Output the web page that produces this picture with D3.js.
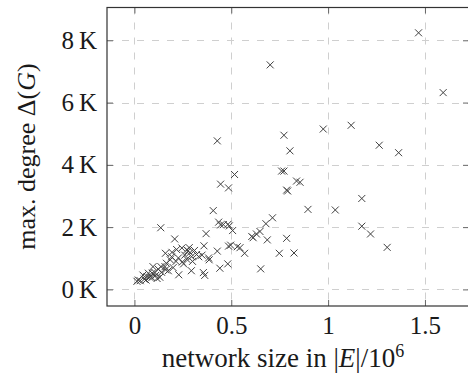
<!DOCTYPE html>
<html>
<head>
<meta charset="utf-8">
<script src="https://cdn.jsdelivr.net/npm/d3@7"></script>
<style>
  html, body { margin: 0; padding: 0; background: #fff; }
  svg { display: block; }
  text { font-family: "Liberation Serif", "DejaVu Serif", serif; fill: #1a1a1a; }
</style>
</head>
<body>
<div id="chart"></div>
<script>
// network size in |E| / 10^6
const edgesM = [
  1.467, 0.701, 1.594, 1.119, 0.975, 0.772, 0.428, 1.264, 0.803, 1.364,
  0.760, 0.772, 0.517, 0.837, 0.855, 0.445, 0.486, 0.786, 0.791, 1.174,
  0.896, 1.037, 0.407, 0.713, 0.435, 0.679, 0.483, 0.445, 1.174, 0.490,
  0.136, 0.507, 0.648, 0.630, 0.606, 0.613, 1.219, 0.370, 0.786, 0.686,
  0.208, 0.359, 0.486, 0.531, 0.545, 1.305, 0.283, 0.277, 0.428, 0.194,
  0.160, 0.748, 0.824, 0.569, 0.321, 0.332, 0.295, 0.383, 0.386, 0.227,
  0.185, 0.192, 0.482, 0.441, 0.652, 0.247, 0.254, 0.165, 0.158, 0.137,
  0.123, 0.294, 0.356, 0.363, 0.229, 0.161, 0.096, 0.092, 0.106, 0.072,
  0.065, 0.079, 0.044, 0.051, 0.117, 0.131, 0.020, 0.013, 0.459, 0.349,
  0.497, 0.270, 0.287, 0.218, 0.245, 0.260, 0.300, 0.310, 0.270, 0.215,
  0.200, 0.175, 0.140, 0.110, 0.090, 0.060, 0.030
];
// max. degree Delta(G), in thousands
const maxDegreeK = [
  8.24, 7.21, 6.32, 5.27, 5.15, 4.95, 4.77, 4.63, 4.45, 4.39,
  3.80, 3.80, 3.69, 3.48, 3.44, 3.38, 3.26, 3.19, 3.16, 2.92,
  2.57, 2.55, 2.53, 2.30, 2.16, 2.11, 2.09, 2.07, 2.03, 2.04,
  1.98, 1.89, 1.86, 1.78, 1.70, 1.66, 1.78, 1.79, 1.64, 1.59,
  1.62, 1.40, 1.39, 1.37, 1.34, 1.35, 1.34, 1.24, 1.23, 1.19,
  1.16, 1.16, 1.17, 1.16, 1.12, 1.05, 1.05, 1.01, 0.95, 1.01,
  0.95, 1.05, 0.82, 0.68, 0.66, 0.88, 0.82, 0.84, 0.73, 0.73,
  0.65, 0.60, 0.54, 0.45, 0.47, 0.63, 0.73, 0.52, 0.54, 0.52,
  0.41, 0.39, 0.46, 0.33, 0.35, 0.39, 0.30, 0.26, 2.08, 1.10,
  1.42, 1.27, 1.18, 1.28, 1.33, 1.10, 0.90, 1.25, 0.97, 0.90,
  0.70, 0.60, 0.55, 0.45, 0.38, 0.30, 0.28
];
const xTicks = [0, 0.5, 1, 1.5];
const xTickLabels = ["0", "0.5", "1", "1.5"];
const yTicks = [0, 2, 4, 6, 8];
const yTickLabels = ["0\u2009K", "2\u2009K", "4\u2009K", "6\u2009K", "8\u2009K"];

const W = 468, H = 381;
const pLeft = 107, pRight = 469, pTop = 7.5, pBottom = 306;

const x = d3.scaleLinear().domain([-0.1415, 1.7274]).range([pLeft, pRight]);
const y = d3.scaleLinear().domain([-0.533, 9.053]).range([pBottom, pTop]);

const svg = d3.select("#chart").append("svg").attr("width", W).attr("height", H);

// grid
const grid = svg.append("g").attr("stroke", "#cfcfcf").attr("stroke-width", 1)
  .attr("stroke-dasharray", "7,8");
grid.selectAll("line.gx").data(xTicks).join("line").attr("class", "gx")
  .attr("x1", d => Math.round(x(d)) + 0.5).attr("x2", d => Math.round(x(d)) + 0.5)
  .attr("y1", pTop).attr("y2", pBottom);
grid.selectAll("line.gy").data(yTicks).join("line").attr("class", "gy")
  .attr("y1", d => Math.round(y(d)) + 0.5).attr("y2", d => Math.round(y(d)) + 0.5)
  .attr("x1", pLeft).attr("x2", pRight);

// axes (ticks inward, labels via axis)
const tickLen = 6;
const fs = 25;
const xAxis = d3.axisBottom(x).tickValues(xTicks).tickFormat((d, i) => xTickLabels[i])
  .tickSizeInner(-tickLen).tickSizeOuter(0).tickPadding(28);
const gx = svg.append("g").attr("transform", `translate(0,${pBottom})`).call(xAxis);
gx.selectAll(".tick text").attr("dy", 0);
const yAxis = d3.axisLeft(y).tickValues(yTicks).tickFormat((d, i) => yTickLabels[i])
  .tickSizeInner(-tickLen).tickSizeOuter(0).tickPadding(10);
const gy = svg.append("g").attr("transform", `translate(${pLeft},0)`).call(yAxis);
const xTopAxis = d3.axisTop(x).tickValues(xTicks).tickFormat("").tickSizeInner(-tickLen).tickSizeOuter(0);
const gxt = svg.append("g").attr("transform", `translate(0,${pTop})`).call(xTopAxis);
const yRightAxis = d3.axisRight(y).tickValues(yTicks).tickFormat("").tickSizeInner(-tickLen).tickSizeOuter(0);
const gyr = svg.append("g").attr("transform", `translate(${pRight},0)`).call(yRightAxis);

[gx, gy, gxt, gyr].forEach(g => {
  g.select(".domain").remove();
  g.selectAll(".tick line").attr("stroke", "#666").attr("stroke-width", 1);
  g.selectAll(".tick text").style("font-family", '"Liberation Serif", serif')
    .style("font-size", fs + "px").attr("fill", "#1a1a1a");
});

// frame
svg.append("rect").attr("x", pLeft).attr("y", pTop)
  .attr("width", pRight - pLeft).attr("height", pBottom - pTop)
  .attr("fill", "none").attr("stroke", "#333").attr("stroke-width", 1.2);

// points as x marks
const s = 3.5;
const pts = edgesM.map((e, i) => [e, maxDegreeK[i]]);
svg.append("g").attr("stroke", "#404040").attr("stroke-width", 1)
  .selectAll("path").data(pts).join("path")
  .attr("d", d => {
    const cx = x(d[0]), cy = y(d[1]);
    return `M${cx - s},${cy - s}L${cx + s},${cy + s}M${cx - s},${cy + s}L${cx + s},${cy - s}`;
  });

// axis labels
const xl = svg.append("text").attr("x", 283).attr("y", 367)
  .attr("text-anchor", "middle").style("font-size", "27px");
xl.append("tspan").text("network size in |");
xl.append("tspan").attr("font-style", "italic").text("E");
xl.append("tspan").text("|/10");
xl.append("tspan").attr("dy", -10).style("font-size", "18px").text("6");

const yl = svg.append("text").attr("transform", `translate(35,156.5) rotate(-90)`)
  .attr("text-anchor", "middle").style("font-size", "26px");
yl.append("tspan").text("max. degree \u0394(");
yl.append("tspan").attr("font-style", "italic").text("G");
yl.append("tspan").text(")");
</script>
</body>
</html>
